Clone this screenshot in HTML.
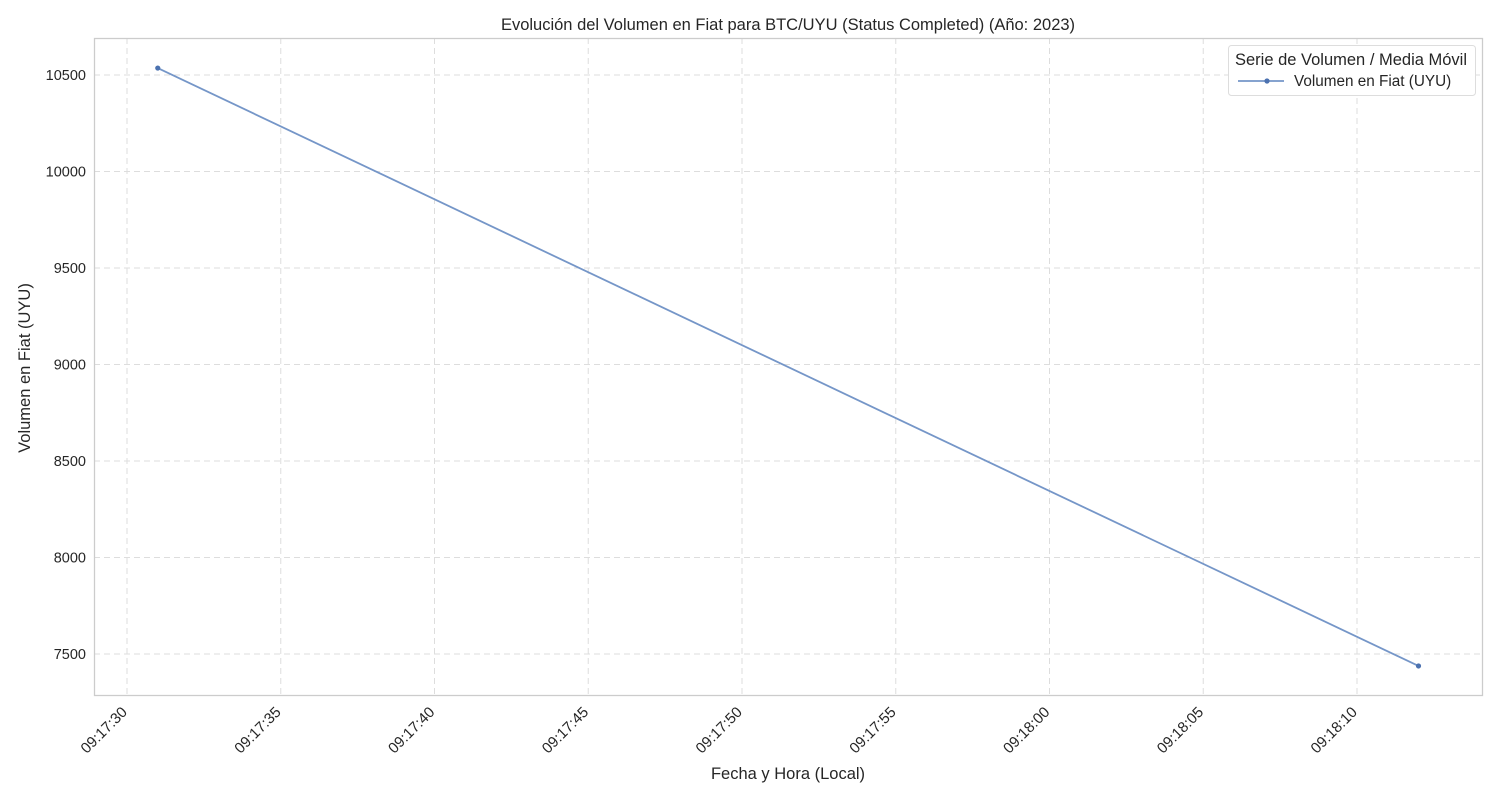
<!DOCTYPE html>
<html><head><meta charset="utf-8"><style>
body{margin:0;background:#fff;font-family:"Liberation Sans","DejaVu Sans",sans-serif;}
svg text{font-family:"Liberation Sans","DejaVu Sans",sans-serif;fill:#262626;}
</style></head><body>
<svg id="chart" width="1500" height="800" xmlns="http://www.w3.org/2000/svg">
<rect width="1500" height="800" fill="#fff"/>
<text x="788" y="30" font-size="16.5" text-anchor="middle">Evolución del Volumen en Fiat para BTC/UYU (Status Completed) (Año: 2023)</text>
<g id="grid"></g>
<rect x="94.5" y="38.5" width="1388" height="657" fill="none" stroke="#ccc" stroke-width="1.3"/>
<g id="ticks"></g>
<g id="series"></g>
<text x="788" y="779" font-size="16.5" text-anchor="middle">Fecha y Hora (Local)</text>
<text transform="translate(30,368) rotate(-90)" font-size="16.5" text-anchor="middle">Volumen en Fiat (UYU)</text>
<g>
<rect x="1228.5" y="45.5" width="247" height="50" rx="3" fill="#fff" stroke="#ddd"/>
<text x="1351" y="65" font-size="16.5" text-anchor="middle">Serie de Volumen / Media Móvil</text>
<line x1="1238" y1="81" x2="1284" y2="81" stroke="#7596c8" stroke-width="1.8"/>
<circle cx="1267" cy="81" r="2.6" fill="#4c72b0"/>
<text x="1294" y="86" font-size="15.3">Volumen en Fiat (UYU)</text>
</g>
</svg>
<script>
const timesSec = [1051, 1092]; // seconds since 09:00:00
const volumes = [10536, 7438];
const xTicksSec = [1050,1055,1060,1065,1070,1075,1080,1085,1090];
const xTickLabels = ["09:17:30","09:17:35","09:17:40","09:17:45","09:17:50","09:17:55","09:18:00","09:18:05","09:18:10"];
const yTicks = [7500,8000,8500,9000,9500,10000,10500];

const NS="http://www.w3.org/2000/svg";
const xs=t=>127+(t-1050)*30.75;
const ys=v=>75+(10500-v)*0.193;
function mk(tag,attrs,parent){const e=document.createElementNS(NS,tag);for(const k in attrs)e.setAttribute(k,attrs[k]);parent.appendChild(e);return e;}
const grid=document.getElementById('grid'),ticks=document.getElementById('ticks'),series=document.getElementById('series');
xTicksSec.forEach((t,i)=>{
  const x=xs(t);
  const g=mk('line',{x1:x,y1:38,x2:x,y2:695,stroke:'#ddd','stroke-dasharray':'6,4','stroke-width':1},grid);
  
  
  const tx=mk('text',{transform:`translate(${x+1},${713}) rotate(-45)`,'font-size':15,'text-anchor':'end'},ticks);
  tx.textContent=xTickLabels[i];
  
  
});
yTicks.forEach(v=>{
  const y=ys(v);
  const g=mk('line',{x1:94,y1:y,x2:1482,y2:y,stroke:'#ddd','stroke-dasharray':'6,4','stroke-width':1},grid);
  
  
  const tx=mk('text',{x:86,y:y+5,'font-size':14.5,'text-anchor':'end'},ticks);
  tx.textContent=v;
  
  
});
const pts=timesSec.map((t,i)=>xs(t)+','+ys(volumes[i])).join(' ');
const pl=mk('polyline',{points:pts,fill:'none',stroke:'#7596c8','stroke-width':1.8},series);


timesSec.forEach((t,i)=>{
  const c=mk('circle',{cx:xs(t),cy:ys(volumes[i]),r:2.6,fill:'#4c72b0'},series);
  
  
});
</script>
</body></html>
